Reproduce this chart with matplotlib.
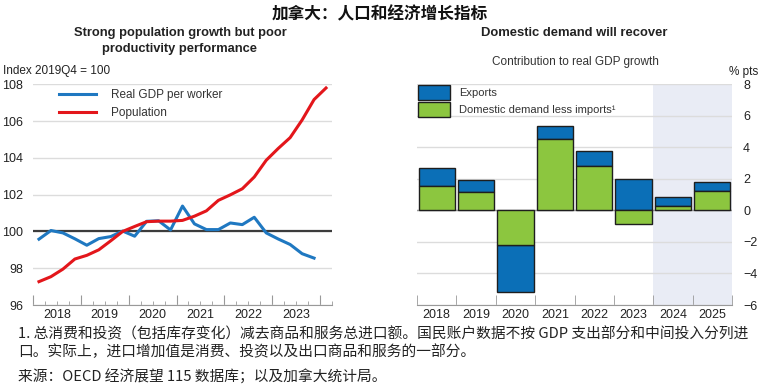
import numpy as np
import matplotlib.pyplot as plt
from matplotlib.patches import Patch

plt.rcParams['font.family'] = ['Liberation Sans', 'Noto Sans CJK SC']

# left panel: quarterly index, 2019Q4 = 100 (2018Q1 onwards)
gdp_per_worker = [99.58, 100.05, 99.92, 99.60, 99.25, 99.61, 99.72, 100.02,
                  99.74, 100.55, 100.58, 100.08, 101.38, 100.41, 100.10, 100.10,
                  100.46, 100.37, 100.77, 99.92, 99.59, 99.29, 98.79, 98.55]
population = [97.27, 97.54, 97.95, 98.50, 98.70, 99.00, 99.49, 100.00,
              100.27, 100.53, 100.56, 100.56, 100.60, 100.83, 101.12, 101.69,
              101.99, 102.32, 102.96, 103.87, 104.51, 105.10, 106.06, 107.17, 107.80]
line_years = ['2018', '2019', '2020', '2021', '2022', '2023']

# right panel: contributions to real GDP growth, % pts
bar_years = ['2018', '2019', '2020', '2021', '2022', '2023', '2024', '2025']
exports = [1.15, 0.74, -2.95, 0.83, 1.00, 1.97, 0.60, 0.60]
domestic = [1.55, 1.16, -2.20, 4.50, 2.79, -0.85, 0.28, 1.23]

W, H = 760, 386
fig = plt.figure(figsize=(W / 100, H / 100), dpi=100)


def fx(px):
    return px / W


def fy(py):
    return 1 - py / H


blue_line = '#1f78c1'
red_line = '#e3161b'
blue_bar = '#0b6fb7'
green_bar = '#8cc63f'
grid_c = '#dcdcdc'
txt_c = '#222222'

# ---- left panel
ax1 = fig.add_axes([fx(33), fy(305), fx(299), (305 - 84.3) / H])
qx = lambda n: 2018 + (np.arange(n) + 0.5) / 4
ax1.plot(qx(len(gdp_per_worker)), gdp_per_worker, color=blue_line, lw=2.2,
         label='Real GDP per worker', zorder=3)
ax1.plot(qx(len(population)), population, color=red_line, lw=2.2,
         label='Population', zorder=3)
ax1.axhline(100, color='#3c3c3c', lw=1.6, zorder=2)
ax1.set_ylim(96, 108)
ax1.set_xlim(2018, 2018 + 299 / 48)
ax1.set_yticks(range(96, 109, 2))
ax1.yaxis.grid(True, color=grid_c, lw=1)
ax1.set_axisbelow(True)
ax1.set_xticks(np.arange(2018, 2025))
ax1.set_xticks(np.arange(2018, 2024.3, 0.25), minor=True)
ax1.tick_params(axis='x', which='major', direction='in', length=7,
                color='#999999', labelbottom=False)
ax1.tick_params(axis='x', which='minor', direction='in', length=3, color='#999999')
ax1.tick_params(axis='y', length=0, pad=7, labelsize=9, labelcolor=txt_c)
sec1 = ax1.secondary_xaxis('bottom')
sec1.set_xticks(np.arange(2018, 2024) + 0.5, line_years)
sec1.tick_params(length=0, pad=3, labelsize=9, labelcolor=txt_c)
sec1.spines['bottom'].set_visible(False)
for s in ['top', 'left', 'right']:
    ax1.spines[s].set_visible(False)
ax1.spines['bottom'].set_color('#999999')
ax1.legend(loc='upper left', bbox_to_anchor=(0.07, 1.0), frameon=False,
           fontsize=8.5, handlelength=3.2, handletextpad=1.2, labelspacing=0.5,
           borderaxespad=0, labelcolor='#333333')

# ---- right panel
ax2 = fig.add_axes([fx(417), fy(305), fx(315), (305 - 84.3) / H])
xb = np.arange(len(bar_years))
exp_bottom = [d if d * e > 0 else 0 for d, e in zip(domestic, exports)]
ax2.axvspan(5.5, 7.5, color='#e9ecf5', zorder=0, lw=0)
ax2.axhline(0, color='#999999', lw=1, zorder=1)
ax2.bar(xb, exports, width=0.92, bottom=exp_bottom, color=blue_bar,
        edgecolor='#1e1e1e', lw=1, zorder=2)
ax2.bar(xb, domestic, width=0.92, color=green_bar,
        edgecolor='#1e1e1e', lw=1, zorder=2)
ax2.set_ylim(-6, 8)
ax2.set_xlim(-0.5, 7.5)
ax2.set_yticks(range(-6, 9, 2))
ax2.yaxis.tick_right()
ax2.yaxis.grid(True, color=grid_c, lw=1)
ax2.set_axisbelow(True)
ax2.set_xticks(xb, bar_years)
ax2.set_xticks(np.arange(-0.5, 8), minor=True)
ax2.tick_params(axis='x', which='major', length=0, pad=3, labelsize=9, labelcolor=txt_c)
ax2.tick_params(axis='x', which='minor', direction='in', length=7, color='#999999')
ax2.tick_params(axis='y', length=0, pad=8, labelsize=9, labelcolor=txt_c)
for s in ['top', 'left', 'right']:
    ax2.spines[s].set_visible(False)
ax2.spines['bottom'].set_color('#999999')
handles = [Patch(facecolor=blue_bar, edgecolor='#1e1e1e', lw=1, label='Exports'),
           Patch(facecolor=green_bar, edgecolor='#1e1e1e', lw=1,
                 label='Domestic demand less imports¹')]
ax2.legend(handles=handles, loc='upper left', bbox_to_anchor=(0.003, 0.997),
           frameon=False, fontsize=8, handlelength=2.9, handleheight=1.75,
           handletextpad=0.8, labelspacing=0.12, borderaxespad=0, borderpad=0,
           labelcolor='#333333')

# ---- titles and notes
fig.text(fx(380), fy(14), '加拿大：人口和经济增长指标', ha='center', va='center',
         fontsize=12, fontweight='bold', family=['Noto Sans CJK SC'], color='#111111')
fig.text(fx(180), fy(41), 'Strong population growth but poor\nproductivity performance',
         ha='center', va='center', fontsize=9.3, fontweight='bold', color=txt_c,
         linespacing=1.4)
fig.text(fx(574), fy(33), 'Domestic demand will recover', ha='center', va='center',
         fontsize=9.4, fontweight='bold', color=txt_c)
fig.text(fx(575), fy(62), 'Contribution to real GDP growth', ha='center', va='center',
         fontsize=8.5, color='#333333')
fig.text(fx(3), fy(71), 'Index 2019Q4 = 100', ha='left', va='center',
         fontsize=8.5, color=txt_c)
fig.text(fx(758), fy(72), '% pts', ha='right', va='center', fontsize=8.5, color=txt_c)

note_font = ['Noto Sans CJK SC', 'DejaVu Sans']
fig.text(fx(18), fy(334), '1. 总消费和投资（包括库存变化）减去商品和服务总进口额。国民账户数据不按 GDP 支出部分和中间投入分列进',
         ha='left', va='center', fontsize=10.6, family=note_font, color='#222222')
fig.text(fx(18), fy(352), '口。实际上，进口增加值是消费、投资以及出口商品和服务的一部分。',
         ha='left', va='center', fontsize=10.6, family=note_font, color='#222222')
fig.text(fx(18), fy(377), '来源：OECD 经济展望 115 数据库；以及加拿大统计局。',
         ha='left', va='center', fontsize=10.6, family=note_font, color='#222222')

fig.savefig('out.png', dpi=100)
